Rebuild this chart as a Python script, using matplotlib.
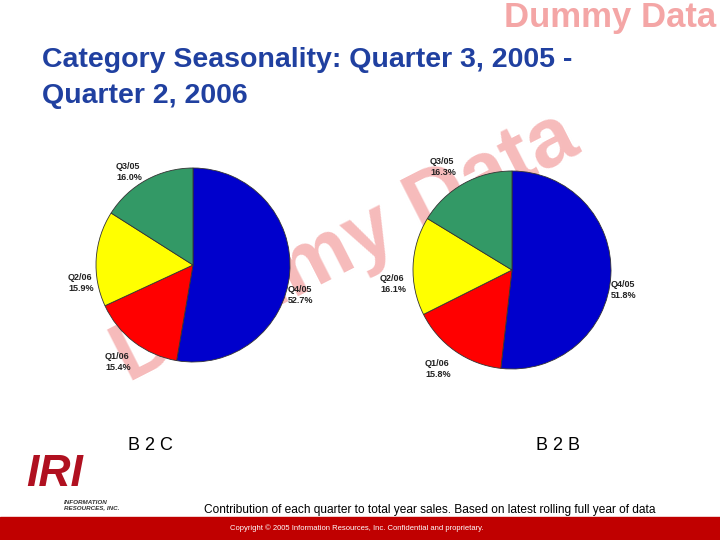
import matplotlib
matplotlib.use("Agg")
import matplotlib.pyplot as plt
from matplotlib.patches import Rectangle

plt.rcParams['font.family'] = ['Liberation Sans', 'DejaVu Sans']

labels = ["Q4/05", "Q1/06", "Q2/06", "Q3/05"]
b2c = [52.7, 15.4, 15.9, 16.0]
b2b = [51.8, 15.8, 16.1, 16.3]
colors = ["#0000CC", "#FF0000", "#FFFF00", "#339966"]

fig = plt.figure(figsize=(7.2, 5.4), dpi=100)
W, H = 720, 540
def fx(x): return x / W
def fy(y): return 1 - y / H

fig.text(fx(716), fy(18), "Dummy Data", color="#F4A6A6", fontsize=25, fontweight="bold", ha="right", va="center")
fig.text(fx(42), fy(60), "Category Seasonality: Quarter 3, 2005 -", color="#2040A0", fontsize=20.5, fontweight="bold", va="center")
fig.text(fx(42), fy(96), "Quarter 2, 2006", color="#2040A0", fontsize=20.5, fontweight="bold", va="center")
fig.text(fx(345), fy(248), "Dummy Data", color="#F6BBBB", fontsize=60, fontweight="bold",
         rotation=27, ha="center", va="center", zorder=-1)

def draw(cx, cy, r, vals, lblpos):
    ax = fig.add_axes([fx(cx - r), fy(cy + r), 2 * r / W, 2 * r / H])
    ax.pie(vals, colors=colors, startangle=90, counterclock=False, radius=1,
           wedgeprops=dict(edgecolor="#333333", linewidth=0.6))
    ax.set_xlim(-1, 1); ax.set_ylim(-1, 1)
    ax.set_aspect("equal")
    ax.patch.set_alpha(0)
    for (x, y, ha), l, v in zip(lblpos, labels, vals):
        fig.text(fx(x), fy(y), f"{l}\n{v:.1f}%", fontsize=6.5, fontweight="bold", ha=ha, va="center", color="#222222")

draw(193, 265, 97, b2c, [(288, 295, "left"), (105, 362, "left"), (68, 283, "left"), (116, 172, "left")])
draw(512, 270, 99, b2b, [(611, 290, "left"), (425, 369, "left"), (380, 284, "left"), (430, 167, "left")])

fig.text(fx(150), fy(445), "B 2 C", fontsize=13, ha="center", va="center")
fig.text(fx(558), fy(445), "B 2 B", fontsize=13, ha="center", va="center")
fig.text(fx(430), fy(510), "Contribution of each quarter to total year sales. Based on latest rolling full year of data",
         fontsize=8.6, ha="center", va="center")
fig.text(fx(55), fy(475), "IRI", color="#B01020", fontsize=32, fontweight="bold", fontstyle="italic", ha="center", va="center")
fig.text(fx(64), fy(505), "INFORMATION\nRESOURCES, INC.", color="#333333", fontsize=4.5, fontweight="bold", fontstyle="italic", va="center")
fig.patches.append(Rectangle((0, 0), 1, fy(517), transform=fig.transFigure, color="#C00000", zorder=0))
fig.text(fx(357), fy(528), "Copyright © 2005 Information Resources, Inc. Confidential and proprietary.",
         fontsize=5.5, color="white", ha="center", va="center")
fig.savefig("out.png", dpi=100)
